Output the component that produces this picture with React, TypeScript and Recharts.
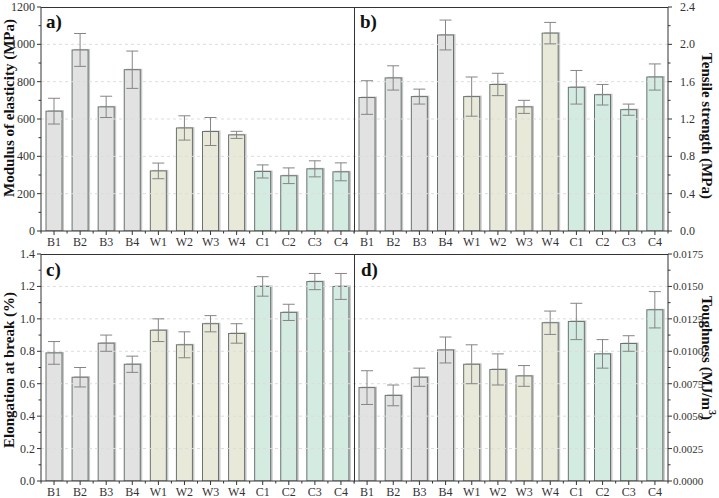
import React from 'react';
import { BarChart, Bar, XAxis, YAxis, ErrorBar, Cell, ReferenceLine } from 'recharts';

const categories = ['B1', 'B2', 'B3', 'B4', 'W1', 'W2', 'W3', 'W4', 'C1', 'C2', 'C3', 'C4'];

const modulus = [642, 970, 665, 864, 322, 552, 533, 515, 319, 296, 333, 317];
const modulusErr = [69, 88, 57, 100, 42, 65, 75, 19, 35, 42, 43, 48];

const tensile = [1.43, 1.64, 1.44, 2.1, 1.44, 1.57, 1.33, 2.12, 1.54, 1.46, 1.3, 1.65];
const tensileErr = [0.18, 0.13, 0.08, 0.16, 0.21, 0.12, 0.07, 0.115, 0.18, 0.11, 0.06, 0.14];

const elongation = [0.79, 0.64, 0.85, 0.72, 0.93, 0.84, 0.97, 0.91, 1.2, 1.04, 1.23, 1.2];
const elongationErr = [0.07, 0.06, 0.05, 0.05, 0.07, 0.08, 0.05, 0.06, 0.06, 0.05, 0.05, 0.08];

const toughness = [0.0072, 0.0066, 0.008, 0.0101, 0.009, 0.0086, 0.0081, 0.0122, 0.0123, 0.0098, 0.0106, 0.0132];
const toughnessErr = [0.0013, 0.0008, 0.0007, 0.001, 0.0015, 0.0012, 0.0008, 0.0009, 0.0014, 0.0011, 0.0006, 0.0014];

const modulusTicks = [0, 200, 400, 600, 800, 1000, 1200];
const tensileTicks = [0, 0.4, 0.8, 1.2, 1.6, 2.0, 2.4];
const elongationTicks = [0, 0.2, 0.4, 0.6, 0.8, 1.0, 1.2, 1.4];
const toughnessTicks = [0, 0.0025, 0.005, 0.0075, 0.01, 0.0125, 0.015, 0.0175];

const groupColors: Record<string, string> = { B: '#e2e2e2', W: '#e9e9da', C: '#d4ebe2' };
const font = '"Liberation Serif", "Times New Roman", serif';
const axisColor = '#333';

const build = (vals: number[], errs: number[]) =>
  categories.map((name, i) => ({ name, value: vals[i], err: errs[i], group: name[0] }));

const BarShape = (props: any) => {
  const { x, y, width, height, fill } = props;
  if (height == null || width == null) return null;
  return (
    <g>
      <rect x={x + 2} y={y - 1} width={width} height={height + 1} fill="#9a9a9a" opacity={0.55} />
      <rect x={x} y={y} width={width} height={height} fill={fill} stroke="#687270" strokeWidth={1} />
    </g>
  );
};

const XTick = (props: any) => {
  const { x, y, payload, width, visibleTicksCount, index } = props;
  const step = width / visibleTicksCount;
  return (
    <g>
      <line x1={x} x2={x} y1={y} y2={y + 4} stroke={axisColor} />
      <line x1={x - step / 2} x2={x - step / 2} y1={y} y2={y + 2.5} stroke={axisColor} />
      {index === visibleTicksCount - 1 && (
        <line x1={x + step / 2} x2={x + step / 2} y1={y} y2={y + 2.5} stroke={axisColor} />
      )}
      <text x={x} y={y + 15} textAnchor="middle" fontFamily={font} fontSize={12} fill={axisColor}>
        {payload.value}
      </text>
    </g>
  );
};

interface PanelProps {
  vals: number[];
  errs: number[];
  majors: number[];
  fmt: (v: number) => string;
  side: 'left' | 'right';
  left: number;
  top: number;
  w: number;
  h: number;
  mt: number;
  mr: number;
  xh: number;
  labelGap: number;
  labelSize: number;
}

const Panel = ({ vals, errs, majors, fmt, side, left, top, w, h, mt, mr, xh, labelGap, labelSize }: PanelProps) => {
  const data = build(vals, errs);
  const step = majors[1] - majors[0];
  const all: number[] = [];
  majors.forEach((m, i) => {
    all.push(m);
    if (i < majors.length - 1) all.push(+(m + step / 2).toFixed(8));
  });
  const sign = side === 'left' ? -1 : 1;

  const YTick = (p: any) => {
    const v = p.payload.value;
    const k = v / step;
    const major = Math.abs(k - Math.round(k)) < 1e-6;
    const len = major ? 4 : 2.5;
    return (
      <g>
        <line x1={p.x} x2={p.x + sign * len} y1={p.y} y2={p.y} stroke={axisColor} />
        {major && (
          <text
            x={p.x + sign * labelGap}
            y={p.y + 4}
            textAnchor={side === 'left' ? 'end' : 'start'}
            fontFamily={font}
            fontSize={labelSize}
            fill={axisColor}
          >
            {fmt(v)}
          </text>
        )}
      </g>
    );
  };

  return (
    <div style={{ position: 'absolute', left, top }}>
      <BarChart width={w} height={h} data={data} margin={{ top: mt, right: mr, bottom: 0, left: 0 }} barSize={16}>
        <XAxis
          xAxisId="b"
          dataKey="name"
          height={xh}
          interval={0}
          tickSize={0}
          tickMargin={0}
          tickLine={false}
          tick={XTick}
          axisLine={{ stroke: axisColor }}
        />
        <YAxis
          yAxisId="v"
          orientation={side}
          width={side === 'left' ? 41 : 51}
          domain={[majors[0], majors[majors.length - 1]]}
          ticks={all}
          interval={0}
          tickSize={0}
          tickMargin={0}
          tickLine={false}
          tick={YTick}
          axisLine={{ stroke: axisColor }}
          allowDataOverflow
        />
        {majors.slice(1, -1).map((v) => (
          <ReferenceLine key={v} xAxisId="b" yAxisId="v" y={v} stroke="#dcdcdc" strokeDasharray="3 3" />
        ))}
        <Bar dataKey="value" xAxisId="b" yAxisId="v" isAnimationActive={false} shape={BarShape}>
          {data.map((d) => (
            <Cell key={d.name} fill={groupColors[d.group]} />
          ))}
          <ErrorBar dataKey="err" width={6} stroke="#858585" strokeWidth={1} direction="y" isAnimationActive={false} />
        </Bar>
      </BarChart>
    </div>
  );
};

const titleStyle = { fontFamily: font, fontWeight: 700, fontSize: 15, fill: '#111' } as const;
const tagStyle = { fontFamily: font, fontWeight: 700, fontSize: 19, fill: '#111' } as const;

export default function App() {
  return (
    <div style={{ position: 'fixed', left: 0, top: 0, width: 719, height: 498, overflow: 'hidden', background: '#fff' }}>
      <Panel vals={modulus} errs={modulusErr} majors={modulusTicks} fmt={(v) => String(v)} side="left"
        left={0} top={0} w={360} h={252} mt={7} mr={6} xh={21} labelGap={6} labelSize={12} />
      <Panel vals={tensile} errs={tensileErr} majors={tensileTicks} fmt={(v) => v.toFixed(1)} side="right"
        left={354} top={0} w={365} h={252} mt={7} mr={0} xh={21} labelGap={12} labelSize={12} />
      <Panel vals={elongation} errs={elongationErr} majors={elongationTicks} fmt={(v) => v.toFixed(1)} side="left"
        left={0} top={240} w={360} h={262} mt={14} mr={6} xh={21} labelGap={6} labelSize={12} />
      <Panel vals={toughness} errs={toughnessErr} majors={toughnessTicks} fmt={(v) => v.toFixed(4)} side="right"
        left={354} top={240} w={365} h={262} mt={14} mr={0} xh={21} labelGap={5} labelSize={11} />
      <svg width={719} height={498} style={{ position: 'absolute', left: 0, top: 0, pointerEvents: 'none' }}>
        {/* panel frames: top edges and shared divider */}
        <line x1={41} x2={668} y1={7.5} y2={7.5} stroke={axisColor} />
        <line x1={41} x2={668} y1={254.5} y2={254.5} stroke={axisColor} />
        <line x1={354.5} x2={354.5} y1={7} y2={231} stroke={axisColor} />
        <line x1={354.5} x2={354.5} y1={254} y2={481} stroke={axisColor} />
        <text transform="translate(9,108) rotate(-90)" textAnchor="middle" dominantBaseline="central" {...titleStyle}>
          Modulus of elasticity (MPa)
        </text>
        <text transform="translate(707,126) rotate(90)" textAnchor="middle" dominantBaseline="central" {...titleStyle}>
          Tensile strength (MPa)
        </text>
        <text transform="translate(9,370) rotate(-90)" textAnchor="middle" dominantBaseline="central" {...titleStyle}>
          Elongation at break (%)
        </text>
        <text transform="translate(707,358) rotate(90)" textAnchor="middle" dominantBaseline="central" {...titleStyle}>
          Toughness (MJ/m<tspan fontSize={10} dy={-6}>3</tspan>
          <tspan dy={6}>)</tspan>
        </text>
        <text x={46} y={28} {...tagStyle}>a)</text>
        <text x={360} y={28} {...tagStyle}>b)</text>
        <text x={46} y={276} {...tagStyle}>c)</text>
        <text x={361} y={276} {...tagStyle}>d)</text>
      </svg>
    </div>
  );
}
